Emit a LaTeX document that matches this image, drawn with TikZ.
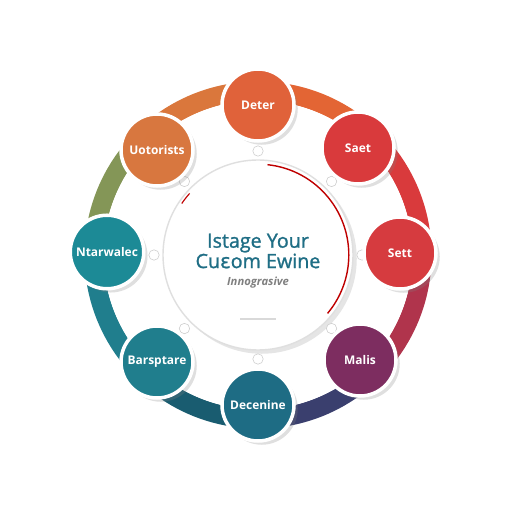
\documentclass[tikz,border=0pt]{standalone}
\usepackage{fontspec}
\setmainfont{Open Sans}
\newfontfamily\titlefont[FakeBold=1.2]{Open Sans}
\newfontfamily\epsfont[FakeBold=1.2]{DejaVu Sans}
\usepackage{tikz}
\usetikzlibrary{shadows,calc}

\definecolor{tealtxt}{HTML}{1F6E85}
\definecolor{cDeter}{HTML}{E0623A}
\definecolor{cSaet}{HTML}{D93A3C}
\definecolor{cSett}{HTML}{D63B3F}
\definecolor{cMalis}{HTML}{7D2D60}
\definecolor{cDece}{HTML}{1E6C84}
\definecolor{cBars}{HTML}{207E8D}
\definecolor{cNtar}{HTML}{1C8A96}
\definecolor{cUoto}{HTML}{D8773F}

\begin{document}
\begin{tikzpicture}
        \useasboundingbox (-6.45,-6.425) rectangle (6.35,6.375);

        % outer band
        \begin{scope}[line width=0.48cm]
            \draw [color=cUoto!95!orange] (90:4.1) arc (90:135:4.1);
            \draw [color=cDeter!90!orange] (45:4.1) arc (45:90:4.1);
            \draw [color=cSaet] (0:4.1) arc (0:45:4.1);
            \draw [color=cSaet!55!cMalis] (-45:4.1) arc (-45:0:4.1);
            \draw [color={rgb,255:red,58;green,63;blue,110}] (-90:4.1) arc (-90:-45:4.1);
            \draw [color=cDece!85!black] (-135:4.1) arc (-135:-90:4.1);
            \draw [color=cBars] (180:4.1) arc (180:225:4.1);
            \draw [color=olive!60!green!50!gray] (135:4.1) arc (135:180:4.1);
        \end{scope}
        \fill [white] (0,0) circle (3.86);

        % centre
        \node (c) [circle, fill=white, draw=gray!25, line width=1pt,
                   minimum size=4.75cm, drop shadow={opacity=0.2}] at (0,0) {};
        \draw [red!75!black, line width=1pt] (84:2.27) arc (84:-40:2.27);
        \draw [red!75!black, line width=0.8pt] (146:2.3) arc (146:138:2.3);
        \node (title) [align=center, text=tealtxt, font=\fontsize{14}{14.5}\titlefont]
            at (0,0.1) {Istage Your\\Cu{\epsfont ɛ}om Ewine};
        \node (sub) [text=gray, font=\fontsize{8}{9}\selectfont\itshape\bfseries]
            at (0,-0.68) {Innograsive};
        \coordinate (b1) at (-0.45,-1.6);
        \coordinate (b2) at (0.45,-1.6);
        \draw [gray!30, line width=2pt] (b1) -- (b2);

        % small tabs on the centre circle
        \begin{scope}[every node/.style={circle,draw=gray!40,fill=white,
                      inner sep=0pt,minimum size=0.26cm}]
            \foreach \a in {0,45,...,315}
                \node (t\a) at (\a:2.6) {};
        \end{scope}

        \begin{scope}[every node/.style={circle,draw=white,line width=2.5pt,
                      minimum size=1.8cm,text=white,drop shadow={opacity=0.25},
                      font=\fontsize{8.5}{9}\selectfont\bfseries}]
            \node (1) [fill=cDeter] at (0, 3.75) {Deter};
            \node (2) [fill=cSaet] at (2.5, 2.675) {Saet};
            \node (3) [fill=cSett] at (3.55, 0.05) {Sett};
            \node (4) [fill=cMalis] at (2.55, -2.625) {Malis};
            \node (5) [fill=cDece] at (0, -3.75) {Decenine};
            \node (6) [fill=cBars] at (-2.525, -2.675) {Barsptare};
            \node (7) [fill=cNtar] at (-3.775, 0.075) {Ntarwalec};
            \node (8) [fill=cUoto] at (-2.525, 2.625) {Uotorists};
        \end{scope}
    \end{tikzpicture}
\end{document}
